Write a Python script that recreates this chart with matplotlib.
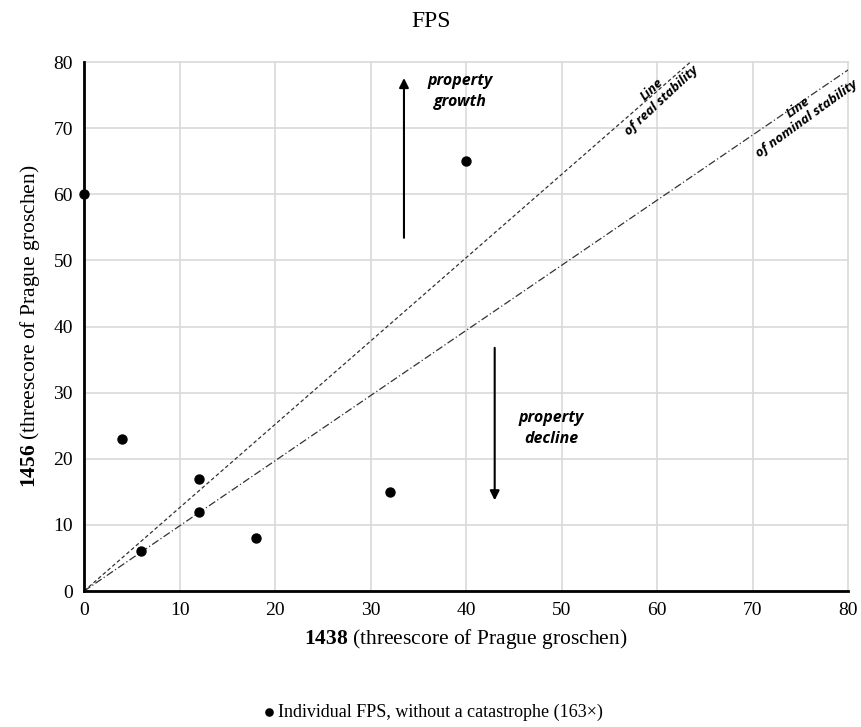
import matplotlib
matplotlib.use('Agg')
import matplotlib.pyplot as plt

plt.rcParams['font.family'] = ['Liberation Serif', 'DejaVu Serif']
plt.rcParams['mathtext.fontset'] = 'custom'
plt.rcParams['mathtext.rm'] = 'Liberation Serif'
plt.rcParams['mathtext.bf'] = 'Liberation Serif:bold'

# data
x_1438 = [0, 40, 4, 12, 12, 6, 18, 32]
y_1456 = [60, 65, 23, 17, 12, 6, 8, 15]
real_line_x = [0, 63.5]
real_line_y = [0, 80]
nominal_line_x = [0, 80]
nominal_line_y = [0, 78.8]
ticks = [0, 10, 20, 30, 40, 50, 60, 70, 80]

fig = plt.figure(figsize=(8.62, 7.27), dpi=100)
ax = fig.add_axes([0.0975, 0.187, 0.8863, 0.7277])

ax.set_xlim(0, 80)
ax.set_ylim(0, 80)
ax.set_xticks(ticks)
ax.set_yticks(ticks)
ax.grid(True, color='#d9d9d9', linewidth=1.2, clip_on=False)
ax.set_axisbelow(True)
for s in ['top', 'right']:
    ax.spines[s].set_visible(False)
for s in ['left', 'bottom']:
    ax.spines[s].set_linewidth(2)
ax.tick_params(length=0, labelsize=14, pad=8)

# stability lines
ax.plot(real_line_x, real_line_y, color='#333333', linestyle=(0, (3, 2)), linewidth=0.9)
ax.plot(nominal_line_x, nominal_line_y, color='#333333', linestyle=(0, (6, 2, 1, 2)), linewidth=0.9)

pts = ax.scatter(x_1438, y_1456, s=42, color='black', zorder=3, clip_on=False,
                 label='Individual FPS, without a catastrophe (163×)')

# arrows
ax.annotate('', xy=(33.5, 78), xytext=(33.5, 53),
            arrowprops=dict(arrowstyle='-|>', color='black', lw=1.5, mutation_scale=14))
ax.annotate('', xy=(43, 13.3), xytext=(43, 37.2),
            arrowprops=dict(arrowstyle='-|>', color='black', lw=1.5, mutation_scale=14))

lab = dict(family='Open Sans', fontweight='bold', fontstyle='italic', fontsize=11.5,
           ha='center', va='center', linespacing=1.4)
ax.text(39.4, 75.6, 'property\ngrowth', **lab)
ax.text(48.9, 24.6, 'property\ndecline', **lab)

small = dict(family='Open Sans', fontweight='bold', fontstyle='italic', fontsize=9.5,
             ha='center', va='center', linespacing=1.1)
ax.text(60.0, 75.0, 'Line\nof real stability', rotation=43, **small)
ax.text(75.2, 72.3, 'Line\nof nominal stability', rotation=36, **small)

ax.set_xlabel(r'$\mathbf{1438}$ (threescore of Prague groschen)', fontsize=15.5, labelpad=6)
ax.set_ylabel(r'$\mathbf{1456}$ (threescore of Prague groschen)', fontsize=15.5, labelpad=8)
fig.suptitle('FPS', fontsize=17, y=0.985)

fig.legend(handles=[pts], loc='center', bbox_to_anchor=(0.5, 0.02), frameon=False,
           fontsize=13, handletextpad=0.0, handlelength=1.0, markerscale=0.8)

fig.savefig('out.png', dpi=100)
